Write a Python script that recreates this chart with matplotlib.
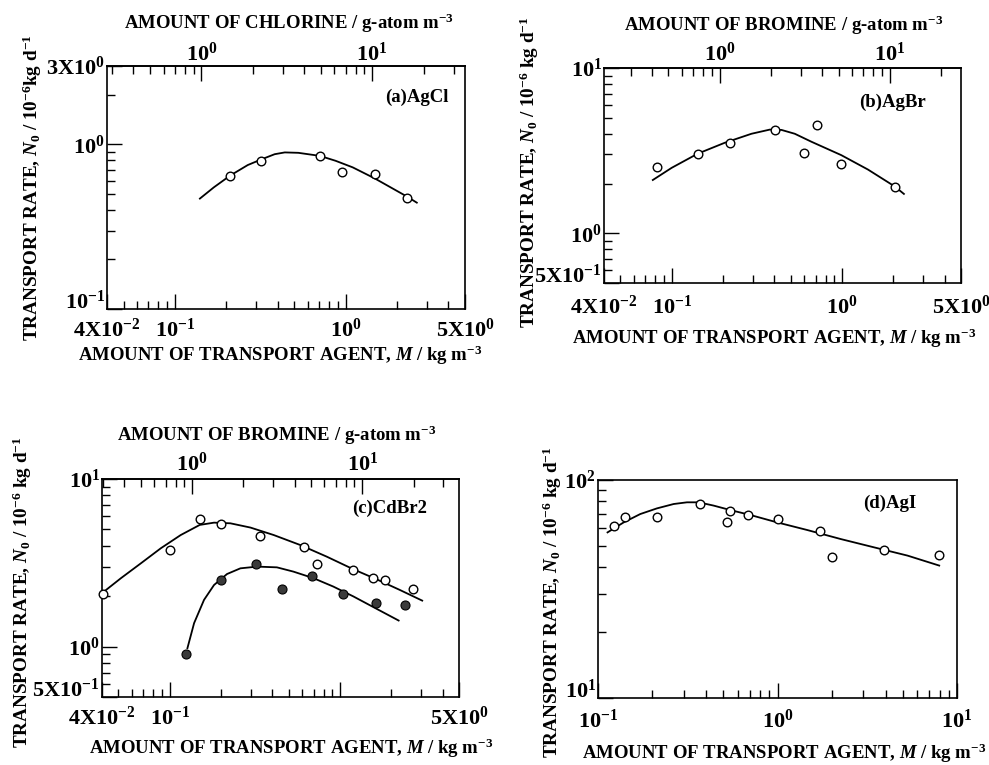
import matplotlib
matplotlib.use("Agg")
import matplotlib.pyplot as plt
import numpy as np
from matplotlib.ticker import FixedLocator, NullFormatter

plt.rcParams['font.family'] = 'Liberation Serif'
plt.rcParams['font.weight'] = 'bold'
plt.rcParams['mathtext.fontset'] = 'custom'
plt.rcParams['mathtext.rm'] = 'Liberation Serif:bold'
plt.rcParams['mathtext.it'] = 'Liberation Serif:italic:bold'
plt.rcParams['mathtext.bf'] = 'Liberation Serif:bold'

W, H = 989, 765

# (a) AgCl
agcl_m = [0.210, 0.320, 0.704, 0.955, 1.48, 2.29]
agcl_rate = [0.643, 0.796, 0.850, 0.676, 0.661, 0.471]
agcl_fit_m = [0.140, 0.169, 0.210, 0.267, 0.320, 0.384, 0.440, 0.528, 0.705, 0.873, 1.10, 1.48, 1.81, 2.29, 2.61]
agcl_fit_rate = [0.469, 0.549, 0.646, 0.750, 0.811, 0.873, 0.895, 0.890, 0.853, 0.796, 0.726, 0.622, 0.553, 0.482, 0.443]

# (b) AgBr
agbr_m = [0.0824, 0.142, 0.221, 0.403, 0.599, 0.717, 0.99, 2.04]
agbr_rate = [2.51, 3.00, 3.53, 4.21, 3.07, 4.50, 2.61, 1.91]
agbr_fit_m = [0.0774, 0.100, 0.142, 0.205, 0.294, 0.377, 0.441, 0.528, 0.661, 0.99, 1.42, 2.04, 2.31]
agbr_fit_rate = [2.10, 2.49, 3.03, 3.53, 4.00, 4.24, 4.22, 4.00, 3.58, 2.97, 2.43, 1.92, 1.73]

# (c) CdBr2, open and filled series
cdbr_open_m = [0.0404, 0.100, 0.150, 0.199, 0.338, 0.616, 0.737, 1.19, 1.57, 1.85, 2.68]
cdbr_open_rate = [2.06, 3.77, 5.75, 5.42, 4.55, 3.91, 3.10, 2.85, 2.58, 2.50, 2.21]
cdbr_fill_m = [0.124, 0.199, 0.321, 0.456, 0.689, 1.04, 1.62, 2.40]
cdbr_fill_rate = [0.90, 2.49, 3.10, 2.22, 2.65, 2.05, 1.81, 1.76]
cdbr_open_fit_m = [0.0404, 0.0517, 0.0677, 0.0886, 0.116, 0.150, 0.182, 0.227, 0.298, 0.408, 0.583, 0.836, 1.20, 1.64, 2.24, 3.04]
cdbr_open_fit_rate = [2.10, 2.56, 3.14, 3.86, 4.63, 5.32, 5.49, 5.44, 5.13, 4.63, 4.04, 3.44, 2.89, 2.52, 2.18, 1.88]
cdbr_fill_fit_m = [0.127, 0.139, 0.159, 0.182, 0.217, 0.260, 0.326, 0.426, 0.533, 0.698, 0.914, 1.20, 1.64, 2.21]
cdbr_fill_fit_rate = [0.978, 1.38, 1.90, 2.33, 2.71, 2.93, 3.00, 2.97, 2.80, 2.56, 2.28, 1.99, 1.68, 1.43]

# (d) AgI
agi_m = [0.122, 0.141, 0.213, 0.371, 0.542, 0.523, 0.683, 1.0, 1.72, 2.01, 3.93, 7.90]
agi_rate = [61.3, 68.0, 68.0, 77.6, 71.8, 64.4, 69.1, 66.2, 58.6, 44.5, 47.7, 45.3]
agi_fit_m = [0.113, 0.139, 0.172, 0.213, 0.264, 0.313, 0.364, 0.441, 0.546, 0.706, 0.996, 1.46, 2.25, 3.45, 5.30, 7.96]
agi_fit_rate = [57.5, 63.9, 69.8, 74.1, 77.6, 79.0, 79.0, 76.3, 72.8, 69.1, 63.9, 59.0, 53.6, 49.1, 45.0, 40.5]

# g-atom of halogen per kg of transport agent (top axes)
cl_per_kg_a = 7.0
br_per_kg_b = 5.24
br_per_kg_c = 7.4

xlabel = 'AMOUNT OF TRANSPORT AGENT, $\\mathit{M}$ / kg m$^{-3}$'


def px(x, y):
    return x / W, 1 - y / H


def rect(l, t, r, b):
    return [l / W, 1 - b / H, (r - l) / W, (b - t) / H]


def minor_log(lo, hi):
    out = []
    for e in range(-3, 3):
        for s in range(2, 10):
            v = s * 10.0 ** e
            if lo < v < hi:
                out.append(v)
    return out


def style_axes(ax, xlim, ylim, xt, xtl, yt, ytl, xpad=4):
    ax.set_xscale('log')
    ax.set_yscale('log')
    ax.set_xlim(xlim)
    ax.set_ylim(ylim)
    ax.xaxis.set_major_locator(FixedLocator(xt))
    ax.xaxis.set_minor_locator(FixedLocator(minor_log(*xlim)))
    ax.set_xticklabels(xtl)
    ax.yaxis.set_major_locator(FixedLocator(yt))
    ax.yaxis.set_minor_locator(FixedLocator(minor_log(*ylim)))
    ax.set_yticklabels(ytl)
    ax.xaxis.set_minor_formatter(NullFormatter())
    ax.yaxis.set_minor_formatter(NullFormatter())
    ax.tick_params(which='both', direction='in', top=False, right=False, labelsize=16, width=1.0)
    ax.tick_params(axis='x', which='both', pad=xpad)
    ax.tick_params(axis='y', which='both', pad=1.5)
    ax.tick_params(which='major', length=11)
    ax.tick_params(which='minor', length=6)
    # lowest y label sits a little above the bottom spine
    ax.get_yticklabels()[0].set_va('baseline')
    for s in ax.spines.values():
        s.set_linewidth(1.2)


def top_axis(ax, factor, lo, hi, pad):
    sec = ax.secondary_xaxis('top', functions=(lambda m: m * factor, lambda c: c / factor))
    sec.xaxis.set_major_locator(FixedLocator([1, 10]))
    sec.set_xticklabels(['10$^{0}$', '10$^{1}$'])
    sec.xaxis.set_minor_locator(FixedLocator(minor_log(lo, hi)))
    sec.xaxis.set_minor_formatter(NullFormatter())
    sec.tick_params(which='both', direction='in', labelsize=16, pad=pad, width=1.0)
    sec.tick_params(which='major', length=11)
    sec.tick_params(which='minor', length=6)
    sec.spines['top'].set_linewidth(1.2)
    return sec


open_kw = dict(linestyle='none', marker='o', markersize=6.2, markerfacecolor='white',
               markeredgecolor='black', markeredgewidth=1.0, zorder=3)
fill_kw = dict(linestyle='none', marker='o', markersize=6.5, markerfacecolor='#3a3a3a',
               markeredgecolor='black', markeredgewidth=0.8, zorder=3)
line_kw = dict(color='black', linewidth=1.3)
ylab_a = 'TRANSPORT RATE, $\\mathit{N}_0$ / 10$^{-6}$kg d$^{-1}$'
ylab = 'TRANSPORT RATE, $\\mathit{N}_0$ / 10$^{-6}$ kg d$^{-1}$'

fig = plt.figure(figsize=(W / 100, H / 100), dpi=100)

# (a)
ax = fig.add_axes(rect(107, 66, 465, 309))
ax.plot(agcl_fit_m, agcl_fit_rate, **line_kw)
ax.plot(agcl_m, agcl_rate, **open_kw)
style_axes(ax, (0.04, 5), (0.1, 3),
           [0.04, 0.1, 1, 5], ['4X10$^{-2}$', '10$^{-1}$', '10$^{0}$', '5X10$^{0}$'],
           [0.1, 1, 3], ['10$^{-1}$', '10$^{0}$', '3X10$^{0}$'], xpad=7)
top_axis(ax, cl_per_kg_a, 0.04 * cl_per_kg_a, 5 * cl_per_kg_a, pad=0.5)
fig.text(*px(289, 23), 'AMOUNT OF CHLORINE / g-atom m$^{-3}$', ha='center', va='center', fontsize=13.5)
fig.text(*px(280, 355), xlabel, ha='center', va='center', fontsize=13.5)
fig.text(*px(32, 188), ylab_a, ha='center', va='center', rotation=90, fontsize=13.8)
fig.text(*px(417, 97), '(a)AgCl', ha='center', va='center', fontsize=13.5)

# (b)
ax = fig.add_axes(rect(604, 68, 961, 283))
ax.plot(agbr_fit_m, agbr_fit_rate, **line_kw)
ax.plot(agbr_m, agbr_rate, **open_kw)
style_axes(ax, (0.04, 5), (0.5, 10),
           [0.04, 0.1, 1, 5], ['4X10$^{-2}$', '10$^{-1}$', '10$^{0}$', '5X10$^{0}$'],
           [0.5, 1, 10], ['5X10$^{-1}$', '10$^{0}$', '10$^{1}$'], xpad=9)
top_axis(ax, br_per_kg_b, 0.04 * br_per_kg_b, 5 * br_per_kg_b, pad=1.5)
fig.text(*px(784, 25), 'AMOUNT OF BROMINE / g-atom m$^{-3}$', ha='center', va='center', fontsize=13.5)
fig.text(*px(774, 338), xlabel, ha='center', va='center', fontsize=13.5)
fig.text(*px(529, 172), ylab, ha='center', va='center', rotation=90, fontsize=13.8)
fig.text(*px(892, 102), '(b)AgBr', ha='center', va='center', fontsize=13.5)

# (c)
ax = fig.add_axes(rect(102, 479, 459, 697))
ax.plot(cdbr_open_fit_m, cdbr_open_fit_rate, **line_kw)
ax.plot(cdbr_fill_fit_m, cdbr_fill_fit_rate, **line_kw)
ax.plot(cdbr_open_m, cdbr_open_rate, clip_on=False, **open_kw)
ax.plot(cdbr_fill_m, cdbr_fill_rate, **fill_kw)
style_axes(ax, (0.04, 5), (0.5, 10),
           [0.04, 0.1, 1, 5], ['4X10$^{-2}$', '10$^{-1}$', '', '5X10$^{0}$'],
           [0.5, 1, 10], ['5X10$^{-1}$', '10$^{0}$', '10$^{1}$'], xpad=7)
top_axis(ax, br_per_kg_c, 0.04 * br_per_kg_c, 5 * br_per_kg_c, pad=2)
fig.text(*px(277, 435), 'AMOUNT OF BROMINE / g-atom m$^{-3}$', ha='center', va='center', fontsize=13.5)
fig.text(*px(291, 748), xlabel, ha='center', va='center', fontsize=13.5)
fig.text(*px(22, 592), ylab, ha='center', va='center', rotation=90, fontsize=13.8)
fig.text(*px(390, 508), '(c)CdBr2', ha='center', va='center', fontsize=13.5)

# (d)
ax = fig.add_axes(rect(598, 480, 957, 698))
ax.plot(agi_fit_m, agi_fit_rate, **line_kw)
ax.plot(agi_m, agi_rate, **open_kw)
style_axes(ax, (0.1, 10), (10, 100),
           [0.1, 1, 10], ['10$^{-1}$', '10$^{0}$', '10$^{1}$'],
           [10, 100], ['10$^{1}$', '10$^{2}$'], xpad=8)
fig.text(*px(784, 753), xlabel, ha='center', va='center', fontsize=13.5)
fig.text(*px(552, 602), ylab, ha='center', va='center', rotation=90, fontsize=13.8)
fig.text(*px(890, 503), '(d)AgI', ha='center', va='center', fontsize=13.5)

fig.savefig('out.png', dpi=100)
